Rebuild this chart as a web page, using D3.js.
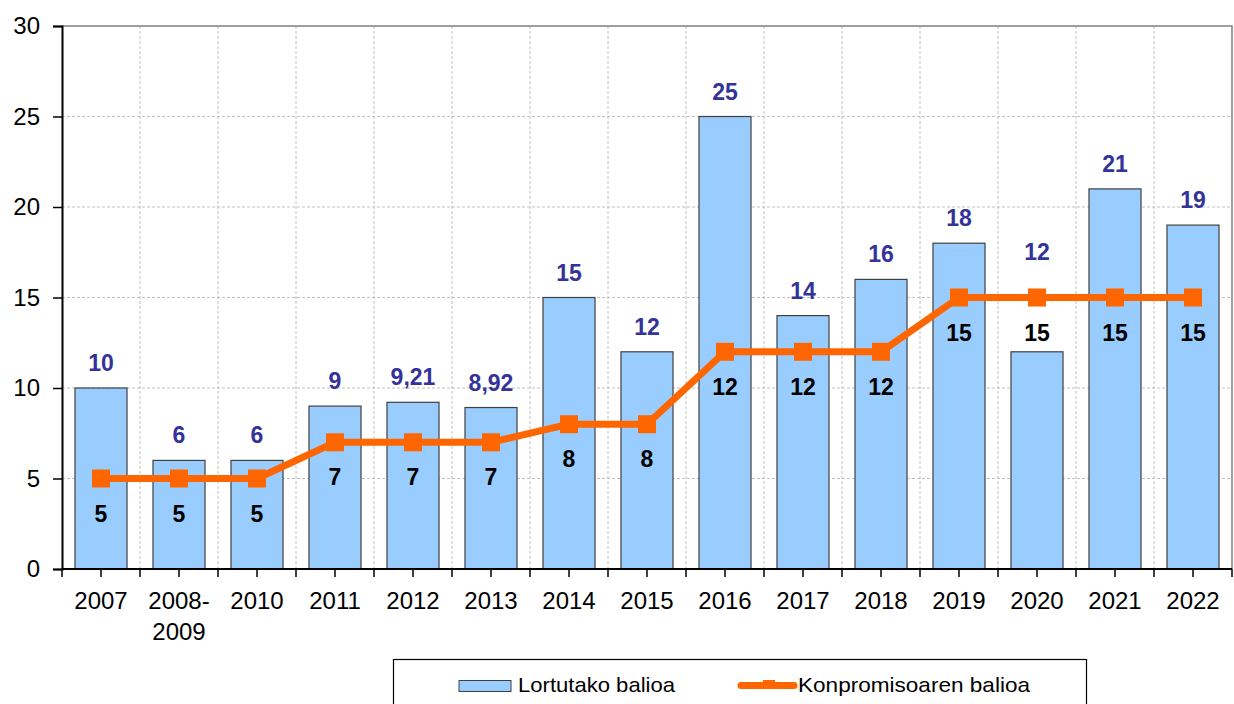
<!DOCTYPE html>
<html>
<head>
<meta charset="utf-8">
<script src="https://cdn.jsdelivr.net/npm/d3@7"></script>
<style>
  body { margin: 0; background: #fff; }
  svg { display: block; font-family: "Liberation Sans", Arial, sans-serif; }
</style>
</head>
<body>
<script>
const categories = ['2007', '2008-2009', '2010', '2011', '2012', '2013', '2014', '2015', '2016', '2017', '2018', '2019', '2020', '2021', '2022']
const lortutakoa = [10, 6, 6, 9, 9.21, 8.92, 15, 12, 25, 14, 16, 18, 12, 21, 19]
const konpromisoa = [5, 5, 5, 7, 7, 7, 8, 8, 12, 12, 12, 15, 15, 15, 15]
const yTicks = [0, 5, 10, 15, 20, 25, 30]

const W = 1234
const H = 704
const pLeft = 62, pRight = 1232, pTop = 26, pBottom = 569

const fmt = v => String(v).replace('.', ',')

const svg = d3.select('body')
  .append('svg')
  .attr('width', W)
  .attr('height', H)

const x = d3.scaleBand()
  .domain(categories)
  .range([pLeft, pRight])
  .paddingInner(0.333)
  .paddingOuter(0.1665)

const y = d3.scaleLinear()
  .domain([0, 30])
  .range([pBottom, pTop])

// grid
svg.append('g')
  .selectAll('line')
  .data(yTicks.filter(d => d > 0 && d < 30))
  .join('line')
  .attr('x1', pLeft).attr('x2', pRight)
  .attr('y1', d => y(d)).attr('y2', d => y(d))
  .attr('stroke', '#c0c0c0')
  .attr('stroke-dasharray', '3,2')

const step = x.step()
svg.append('g')
  .selectAll('line')
  .data(categories.slice(1))
  .join('line')
  .attr('x1', d => x(d) - x.paddingInner() * step / 2)
  .attr('x2', d => x(d) - x.paddingInner() * step / 2)
  .attr('y1', pTop).attr('y2', pBottom)
  .attr('stroke', '#c0c0c0')
  .attr('stroke-dasharray', '3,2')

// top & right border
svg.append('path')
  .attr('d', `M${pLeft},${pTop}H${pRight}V${pBottom}`)
  .attr('fill', 'none')
  .attr('stroke', '#808080')
  .attr('stroke-width', 1.5)

// bars
svg.append('g')
  .selectAll('rect')
  .data(lortutakoa)
  .join('rect')
  .attr('x', (d, i) => x(categories[i]))
  .attr('y', d => y(d))
  .attr('width', x.bandwidth())
  .attr('height', d => y(0) - y(d))
  .attr('fill', '#99ccff')
  .attr('stroke', '#404040')
  .attr('stroke-width', 1.2)

// y axis
const yAxis = d3.axisLeft(y)
  .tickValues(yTicks)
  .tickSize(9)

const gy = svg.append('g')
  .attr('transform', `translate(${pLeft},0)`)
  .call(yAxis)
gy.select('.domain').attr('stroke', '#000').attr('stroke-width', 2)
gy.selectAll('.tick line').attr('stroke', '#000').attr('stroke-width', 1.5)
gy.selectAll('.tick text')
  .attr('font-size', 24)
  .attr('fill', '#000')
  .attr('font-family', '"Liberation Sans", Arial, sans-serif')
  .attr('x', -22)

// x axis line + ticks
svg.append('line')
  .attr('x1', pLeft).attr('x2', pRight)
  .attr('y1', pBottom).attr('y2', pBottom)
  .attr('stroke', '#000').attr('stroke-width', 2)

const tickPos = d3.range(0, categories.length * 2 + 1).map(k => pLeft + k * step / 2)
svg.append('g')
  .selectAll('line')
  .data(tickPos)
  .join('line')
  .attr('x1', d => d).attr('x2', d => d)
  .attr('y1', pBottom).attr('y2', pBottom + 8)
  .attr('stroke', '#000').attr('stroke-width', 1.5)

const xl = svg.append('g')
  .selectAll('text')
  .data(categories)
  .join('text')
  .attr('x', d => x(d) + x.bandwidth() / 2)
  .attr('y', 609)
  .attr('text-anchor', 'middle')
  .attr('font-size', 24)
  .attr('fill', '#000')
xl.each(function (d) {
  const parts = d.includes('-') ? [d.split('-')[0] + '-', d.split('-')[1]] : [d]
  d3.select(this).selectAll('tspan')
    .data(parts)
    .join('tspan')
    .attr('x', x(d) + x.bandwidth() / 2)
    .attr('dy', (p, i) => i === 0 ? 0 : 31)
    .text(p => p)
})

// bar labels (moved above the line where the line is higher)
svg.append('g')
  .selectAll('text')
  .data(lortutakoa)
  .join('text')
  .attr('x', (d, i) => x(categories[i]) + x.bandwidth() / 2)
  .attr('y', (d, i) => konpromisoa[i] > d ? y(konpromisoa[i]) - 38 : y(d) - 17)
  .attr('text-anchor', 'middle')
  .attr('font-size', 23)
  .attr('font-weight', 'bold')
  .attr('fill', '#333399')
  .text(d => fmt(d))

// line
const cx = i => x(categories[i]) + x.bandwidth() / 2
const line = d3.line()
  .x((d, i) => cx(i))
  .y(d => y(d))

svg.append('path')
  .datum(konpromisoa)
  .attr('d', line)
  .attr('fill', 'none')
  .attr('stroke', '#ff6600')
  .attr('stroke-width', 7)
  .attr('stroke-linejoin', 'round')

svg.append('g')
  .selectAll('rect')
  .data(konpromisoa)
  .join('rect')
  .attr('x', (d, i) => cx(i) - 9)
  .attr('y', d => y(d) - 9)
  .attr('width', 18)
  .attr('height', 18)
  .attr('fill', '#ff6600')

svg.append('g')
  .selectAll('text')
  .data(konpromisoa)
  .join('text')
  .attr('x', (d, i) => cx(i))
  .attr('y', d => y(d) + 43)
  .attr('text-anchor', 'middle')
  .attr('font-size', 23)
  .attr('font-weight', 'bold')
  .attr('fill', '#000')
  .text(d => fmt(d))

// legend
const lg = svg.append('g')
lg.append('rect')
  .attr('x', 393.5).attr('y', 659.5)
  .attr('width', 693).attr('height', 60)
  .attr('fill', '#fff')
  .attr('stroke', '#000')
  .attr('stroke-width', 1.2)
lg.append('rect')
  .attr('x', 459).attr('y', 680.5)
  .attr('width', 52).attr('height', 11)
  .attr('fill', '#99ccff')
  .attr('stroke', '#404040')
lg.append('text')
  .attr('x', 518).attr('y', 692)
  .attr('font-size', 21)
  .attr('textLength', 157)
  .attr('lengthAdjust', 'spacingAndGlyphs')
  .text('Lortutako balioa')
lg.append('line')
  .attr('x1', 741).attr('x2', 794)
  .attr('y1', 685.5).attr('y2', 685.5)
  .attr('stroke', '#ff6600')
  .attr('stroke-width', 7)
  .attr('stroke-linecap', 'round')
lg.append('rect')
  .attr('x', 763).attr('y', 680)
  .attr('width', 12).attr('height', 9)
  .attr('fill', '#ff6600')
lg.append('text')
  .attr('x', 798).attr('y', 692)
  .attr('font-size', 21)
  .attr('textLength', 232)
  .attr('lengthAdjust', 'spacingAndGlyphs')
  .text('Konpromisoaren balioa')
</script>
</body>
</html>
